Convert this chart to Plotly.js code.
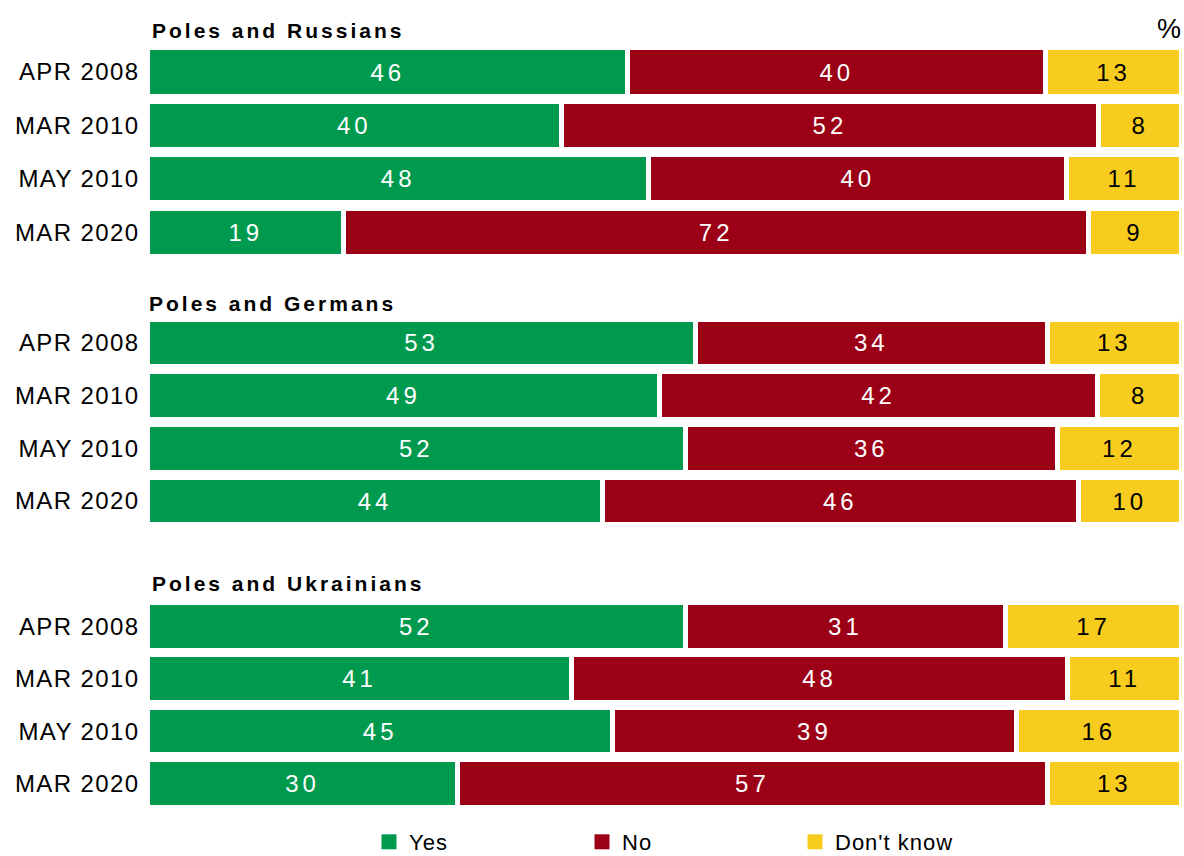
<!DOCTYPE html>
<html>
<head>
<meta charset="utf-8">
<script src="https://cdn.plot.ly/plotly-3.0.1.min.js"></script>
<style>
  html, body { margin: 0; padding: 0; background: #ffffff; }
  #chart { width: 1184px; height: 856px; }
  .annotation-text { letter-spacing: 3px; }
  .yaxislayer-above text { letter-spacing: 1.4px; }
  .bartext { letter-spacing: 4px; }
  .legendtext { letter-spacing: 1px; }
</style>
</head>
<body>
<div id="chart"></div>
<script>
// ---- data ----
const periods = ["APR 2008", "MAR 2010", "MAY 2010", "MAR 2020"];
const groupTitles = ["Poles and Russians", "Poles and Germans", "Poles and Ukrainians"];
const seriesNames = ["Yes", "No", "Don't know"];

const russiansYes = [46, 40, 48, 19];
const russiansNo  = [40, 52, 40, 72];
const russiansDk  = [13, 8, 11, 9];

const germansYes = [53, 49, 52, 44];
const germansNo  = [34, 42, 36, 46];
const germansDk  = [13, 8, 12, 10];

const ukrainiansYes = [52, 41, 45, 30];
const ukrainiansNo  = [31, 48, 39, 57];
const ukrainiansDk  = [17, 11, 16, 13];

// ---- style ----
const colors = ["#009a4e", "#9b0016", "#f8cc1f"];
const textColors = ["#ffffff", "#ffffff", "#000000"];
const FONT = "Liberation Sans, Arial, Helvetica, sans-serif";

const groups = [
  { yes: russiansYes, no: russiansNo, dk: russiansDk, axis: "y" },
  { yes: germansYes, no: germansNo, dk: germansDk, axis: "y2" },
  { yes: ukrainiansYes, no: ukrainiansNo, dk: ukrainiansDk, axis: "y3" }
];

const traces = [];
groups.forEach(g => {
  [g.yes, g.no, g.dk].forEach((vals, i) => {
    traces.push({
      type: "bar",
      orientation: "h",
      x: vals,
      y: periods,
      xaxis: "x",
      yaxis: g.axis,
      name: seriesNames[i],
      showlegend: false,
      marker: { color: colors[i], line: { color: "#ffffff", width: 5 } },
      text: vals.map(String),
      texttemplate: "%{text}",
      textposition: "inside",
      insidetextanchor: "middle",
      textangle: 0,
      constraintext: "none",
      insidetextfont: { family: FONT, size: 24, color: textColors[i] },
      hoverinfo: "skip"
    });
  });
});

// legend entries
seriesNames.forEach((n, i) => {
  traces.push({
    type: "scatter",
    mode: "markers",
    x: [null], y: [null],
    xaxis: "x", yaxis: "y",
    name: n,
    showlegend: true,
    marker: { symbol: "square", size: 15, color: colors[i] },
    hoverinfo: "skip"
  });
});

const H = 856, W = 1184;
const yAxisBase = {
  type: "category",
  categoryorder: "array",
  categoryarray: periods,
  autorange: "reversed",
  showgrid: false, zeroline: false, showline: false,
  ticks: "",
  ticklabelstandoff: 7,
  tickfont: { family: FONT, size: 24, color: "#000000" },
  automargin: false,
  anchor: "x",
  fixedrange: true
};

const titleFont = { family: FONT, size: 21, color: "#000000", weight: 700 };

const layout = {
  width: W, height: H,
  margin: { l: 0, r: 0, t: 0, b: 0, autoexpand: false },
  paper_bgcolor: "#ffffff",
  plot_bgcolor: "#ffffff",
  barmode: "stack",
  barnorm: "percent",
  bargap: 0.095,
  font: { family: FONT, color: "#000000" },
  xaxis: {
    domain: [147.5 / W, 1181.5 / W],
    range: [0, 100],
    visible: false,
    fixedrange: true
  },
  yaxis:  Object.assign({}, yAxisBase, { domain: [1 - 258.9 / H, 1 - 45.3 / H] }),
  yaxis2: Object.assign({}, yAxisBase, { domain: [1 - 527.4 / H, 1 - 316.6 / H] }),
  yaxis3: Object.assign({}, yAxisBase, { domain: [1 - 809.7 / H, 1 - 600.1 / H] }),
  showlegend: true,
  legend: {
    orientation: "h",
    traceorder: "normal",
    x: 369 / W, xanchor: "left",
    y: 1 - 842 / H, yanchor: "middle",
    font: { family: FONT, size: 22, color: "#000000" },
    entrywidth: 168, entrywidthmode: "pixels",
    itemwidth: 30,
    bgcolor: "rgba(0,0,0,0)"
  },
  annotations: [
    { text: groupTitles[0], xref: "paper", yref: "paper", x: 150 / W, y: 1 - 30.5 / H, xanchor: "left", yanchor: "middle", showarrow: false, font: titleFont },
    { text: groupTitles[1], xref: "paper", yref: "paper", x: 147 / W, y: 1 - 303 / H, xanchor: "left", yanchor: "middle", showarrow: false, font: titleFont },
    { text: groupTitles[2], xref: "paper", yref: "paper", x: 150 / W, y: 1 - 583.5 / H, xanchor: "left", yanchor: "middle", showarrow: false, font: titleFont },
    { text: "%", xref: "paper", yref: "paper", x: 1186 / W, y: 1 - 29 / H, xanchor: "right", yanchor: "middle", showarrow: false, font: { family: FONT, size: 27, color: "#000000" } }
  ],
  hovermode: false
};

Plotly.newPlot("chart", traces, layout, { displayModeBar: false, staticPlot: true });
</script>
</body>
</html>
